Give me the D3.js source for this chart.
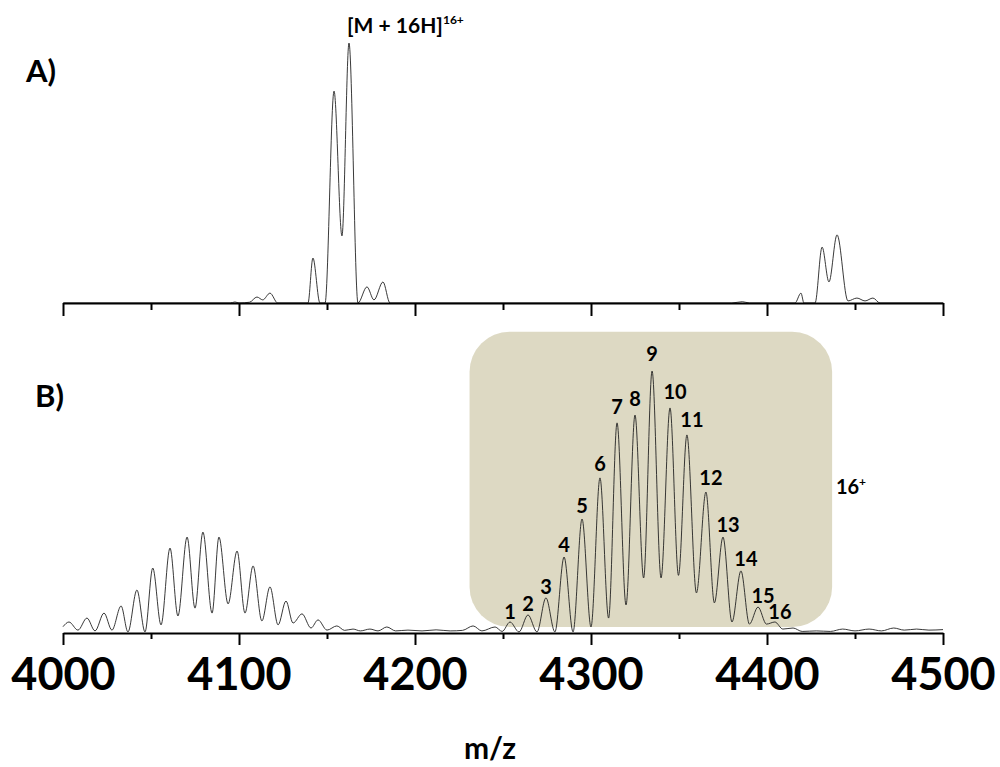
<!DOCTYPE html>
<html>
<head>
<meta charset="utf-8">
<script src="https://cdn.jsdelivr.net/npm/d3@7"></script>
<style>
  html, body { margin: 0; padding: 0; background: #fff; }
  svg { display: block; }
  text { font-family: Lato, "Liberation Sans", Arial, sans-serif; font-weight: bold; fill: #000; }
</style>
</head>
<body>
<svg id="chart" width="1000" height="767"></svg>
<script>
// m/z axis
const mzDomain = [4000, 4500];
const tickValues = d3.range(4000, 4501, 50);

// panel A spectrum, [m/z, relative intensity]
const spectrumA = [
  [4000, 0], [4095, 0], [4097.7, 0.4], [4100, 0], [4106, 0.3], [4110.2, 2.3], [4113.5, 1.2],
  [4117.6, 3.8], [4122, 0], [4139.2, 0], [4142, 17.3], [4146, 0], [4148.9, 0],
  [4154, 81.5], [4158.5, 25.8], [4162.5, 100], [4167.6, 0], [4172.7, 6.2], [4176.7, 1.2],
  [4181.8, 8.1], [4185.8, 0], [4380, 0], [4386, 0.5], [4390, 0], [4415.9, 0], [4419.3, 3.8],
  [4421, 0], [4427.3, 0], [4431.3, 21.5], [4435.2, 8.1], [4439.8, 26.2], [4446, 0.8],
  [4451.1, 1.9], [4455.7, 0.8], [4460.2, 1.9], [4464.2, 0], [4500, 0]
];

// panel B: labelled charge-state series (peaks and the valleys between them)
const seriesLabels = ["1","2","3","4","5","6","7","8","9","10","11","12","13","14","15","16"];
const seriesPeakMz = [4254, 4264.2, 4274.4, 4284.7, 4294.9, 4305.1, 4314.8, 4325, 4334.7, 4344.9, 4354.5, 4365.3, 4375, 4385.2, 4394.9, 4404.5];
const seriesPeakInt = [4.2, 6.9, 13.4, 29, 43.5, 59.2, 80.2, 83.2, 100, 85.9, 75.6, 53.8, 36.6, 23.7, 9.9, 4.2];
const seriesValleyMz = [4259.1, 4269.3, 4279.5, 4289.8, 4300, 4310, 4319.9, 4329.9, 4339.8, 4349.7, 4359.9, 4370.1, 4380.1, 4390, 4399.7];
const seriesValleyInt = [0.4, 0.4, 0.4, 0.4, 2.3, 5.7, 10.7, 21, 21, 22, 15.3, 11.5, 4.2, 3.4, 3.4];

// panel B: the rest of the trace (left cluster, noise, tail)
const spectrumBRest = [
  [4000, 2.4], [4003.4, 4.2], [4008.5, 1.1], [4013.6, 5.7], [4018.2, 0.8], [4023.3, 7.6],
  [4027.8, 1.1], [4033, 10.3], [4036.9, 0.4], [4042, 16.4], [4046.6, 0.4], [4051, 24.8],
  [4055.7, 3.1], [4060.8, 32.4], [4065.3, 6.5], [4070.5, 36.6], [4075, 9.5], [4079.5, 38.5],
  [4084.7, 7.6], [4088.6, 36.6], [4093.8, 11.1], [4098.9, 31.3], [4103.4, 7.6], [4108, 25.6],
  [4113, 4.6], [4117.6, 17.6], [4122.2, 3.1], [4126.7, 12.2], [4130.7, 3.8], [4135.8, 7.3],
  [4140.9, 1.9], [4144.9, 5], [4150, 1.1], [4155.6, 2.7], [4160, 1], [4164.8, 1.5], [4169, 0.8],
  [4174.4, 1.5], [4179, 0.8], [4184, 2.3], [4189, 0.8], [4196, 1.1], [4204, 0.8], [4212, 1.2],
  [4220, 0.8], [4227, 1.0], [4233, 2.7], [4238, 0.8], [4245.5, 2.3], [4249.5, 0.6],
  [4409, 1.5], [4414.8, 1.9], [4420, 0.6], [4428, 0.8], [4436, 0.6], [4443, 1.5], [4450, 0.8],
  [4458, 1.5], [4465, 0.8], [4472, 1.9], [4478, 1.1], [4485, 1.5], [4492, 1.1], [4500, 1.3]
];

const svg = d3.select("#chart");

const x = d3.scaleLinear().domain(mzDomain).range([63, 943]);
const yA = d3.scaleLinear().domain([0, 100]).range([303, 43]);
const yB = d3.scaleLinear().domain([0, 100]).range([633, 371]);

const spectrumB = spectrumBRest
  .concat(seriesPeakMz.map((m, i) => [m, seriesPeakInt[i]]))
  .concat(seriesValleyMz.map((m, i) => [m, seriesValleyInt[i]]))
  .sort((a, b) => a[0] - b[0]);

// highlight box behind the 16+ series
svg.append("rect")
  .attr("x", x(4231))
  .attr("y", yB(115))
  .attr("width", x(4437) - x(4231))
  .attr("height", yB(2.3) - yB(115))
  .attr("rx", 40)
  .attr("fill", "#ddd9c3");

function trace(y) {
  return d3.line()
    .x((d) => x(d[0]))
    .y((d) => y(d[1]))
    .curve(d3.curveMonotoneX);
}

svg.append("path")
  .datum(spectrumA)
  .attr("d", trace(yA))
  .attr("fill", "none")
  .attr("stroke", "#222")
  .attr("stroke-width", 0.9);

svg.append("path")
  .datum(spectrumB)
  .attr("d", trace(yB))
  .attr("fill", "none")
  .attr("stroke", "#222")
  .attr("stroke-width", 0.9);

function drawAxis(yPos, major, minor, withLabels) {
  const g = svg.append("g")
    .attr("transform", `translate(0,${yPos})`)
    .call(
      d3.axisBottom(x)
        .tickValues(tickValues)
        .tickSizeOuter(0)
        .tickFormat((d) => (withLabels && d % 100 === 0 ? d : ""))
    );
  g.select(".domain").attr("stroke", "#000").attr("stroke-width", 2.2);
  g.selectAll(".tick line")
    .attr("stroke", "#000")
    .attr("stroke-width", 2)
    .attr("y2", (d) => (d % 100 === 0 ? major : minor));
  g.selectAll(".tick text")
    .attr("y", 57)
    .attr("dy", 0)
    .attr("font-size", 45)
    .attr("font-family", "Lato, 'Liberation Sans', Arial, sans-serif")
    .attr("font-weight", "bold")
    .attr("fill", "#000");
}

drawAxis(303, 13, 7, false);
drawAxis(633, 12, 6, true);

// panel letters
svg.append("text").attr("x", 26).attr("y", 82).attr("font-size", 31).text("A)");
svg.append("text").attr("x", 35).attr("y", 407).attr("font-size", 31).text("B)");

// axis title
svg.append("text")
  .attr("x", 490).attr("y", 759)
  .attr("text-anchor", "middle")
  .attr("font-size", 30)
  .text("m/z");

// main ion label in A
const mainIon = svg.append("text")
  .attr("x", x(4162.5) - 2)
  .attr("y", yA(100) - 10)
  .attr("font-size", 21);
mainIon.append("tspan").text("[M + 16H]");
mainIon.append("tspan").attr("font-size", 12).attr("dy", -9).text("16+");

// charge label beside the box
const charge = svg.append("text")
  .attr("x", x(4438) + 2)
  .attr("y", yB(53))
  .attr("font-size", 20);
charge.append("tspan").text("16");
charge.append("tspan").attr("font-size", 12).attr("dy", -8).text("+");

// peak numbers: small peaks get their number closer to the tip,
// numbers right of the apex sit slightly right of their peak
svg.append("g")
  .selectAll("text")
  .data(seriesLabels)
  .join("text")
  .attr("x", (d, i) => x(seriesPeakMz[i]) + (i > 8 ? 5 : 0))
  .attr("y", (d, i) => yB(seriesPeakInt[i]) - 3 - seriesPeakInt[i] * 0.07)
  .attr("text-anchor", "middle")
  .attr("font-size", 20)
  .text((d) => d);
</script>
</body>
</html>
